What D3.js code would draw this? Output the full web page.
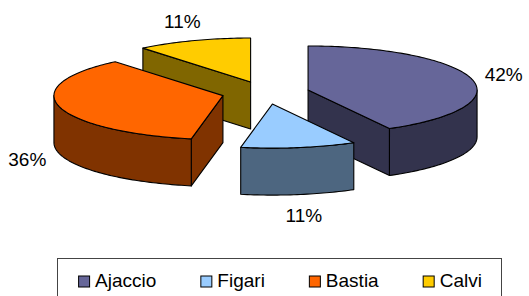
<!DOCTYPE html>
<html>
<head>
<meta charset="utf-8">
<script src="https://cdn.jsdelivr.net/npm/d3@7"></script>
<style>
    body { margin: 0; background: #fff; }
    text { font-family: "Liberation Sans", Arial, sans-serif; fill: #000; }
</style>
</head>
<body>
<script>
// Chart data
var cities = ["Ajaccio", "Figari", "Bastia", "Calvi"];
var shares = [42, 11, 36, 11];
var topColors = ["#666699", "#99CCFF", "#FF6600", "#FFCC00"];
var sideColors = ["#33334D", "#4D6680", "#803300", "#806600"];

window.onload = function(){

    // SVG dimension variables
    var w = 529, h = 296;

    // Pie geometry (3D ellipse)
    var cx = 265.5, cy = 92.8, rx = 169, ry = 44, depth = 47, explode = 0.26;
    var fontSize = 19;

    var svg = d3.select("body")
        .append("svg")
        .attr("width", w)
        .attr("height", h);

    // Unit-circle coords -> screen coords
    var x = d3.scaleLinear().domain([-1, 1]).range([cx - rx, cx + rx]);
    var y = d3.scaleLinear().domain([-1, 1]).range([cy - ry, cy + ry]);

    var pie = d3.pie().sort(null).value(function(d){ return d; });
    var arcs = pie(shares);

    arcs.forEach(function(d, i){
        d.mid = (d.startAngle + d.endAngle) / 2;
        d.ox = explode * Math.sin(d.mid);
        d.oy = -explode * Math.cos(d.mid);
        d.i = i;
    });

    // Point of a slice at angle a, radius r, depth dz
    function pt(d, a, r, dz){
        return [x(r * Math.sin(a) + d.ox), y(-r * Math.cos(a) + d.oy) + dz];
    }

    function arcPts(d, a0, a1, dz){
        var n = Math.max(2, Math.ceil(Math.abs(a1 - a0) / 0.02));
        return d3.range(n + 1).map(function(k){
            return pt(d, a0 + (a1 - a0) * k / n, 1, dz);
        });
    }

    var line = d3.line().curve(d3.curveLinearClosed);

    // Paint from back to front
    var order = arcs.slice().sort(function(a, b){
        return -Math.cos(a.mid) - -Math.cos(b.mid);
    });

    var slices = svg.append("g").attr("class", "slices");

    order.forEach(function(d){
        var g = slices.append("g").attr("class", "slice");
        var side = sideColors[d.i], top = topColors[d.i];

        // Radial cut faces that face the viewer
        [[d.startAngle, Math.sin(d.startAngle) < -1e-6], [d.endAngle, Math.sin(d.endAngle) > 1e-6]]
            .forEach(function(f){
                if (!f[1]) return;
                g.append("path")
                    .attr("d", line([pt(d, 0, 0, 0), pt(d, f[0], 1, 0), pt(d, f[0], 1, depth), pt(d, 0, 0, depth)]))
                    .style("fill", side);
            });

        // Outer wall, front half only
        var a0 = Math.max(d.startAngle, Math.PI / 2);
        var a1 = Math.min(d.endAngle, 3 * Math.PI / 2);
        if (a1 > a0) {
            var pts = arcPts(d, a0, a1, 0).concat(arcPts(d, a1, a0, depth));
            g.append("path")
                .attr("d", line(pts))
                .style("fill", side);
        }

        // Top face
        g.append("path")
            .attr("d", line([pt(d, 0, 0, 0)].concat(arcPts(d, d.startAngle, d.endAngle, 0))))
            .style("fill", top);
    });

    slices.selectAll("path")
        .style("stroke", "#000")
        .style("stroke-width", 1.1)
        .style("stroke-linejoin", "round");

    // Percent labels outside each slice
    var fmt = function(v){ return Math.round(v) + "%"; };
    var total = d3.sum(shares);
    var capH = fontSize * 0.716;

    arcs.forEach(function(d){
        var front = -Math.cos(d.mid) > 0;
        var a = pt(d, d.mid, 1, front ? depth : 0);
        var t = svg.append("text")
            .attr("class", "label")
            .attr("text-anchor", "middle")
            .style("font-size", fontSize + "px")
            .text(fmt(d.data / total * 100));
        var hw = t.node().getComputedTextLength() / 2;
        var lx = a[0] + Math.sin(d.mid) * (hw + 14);
        var ly = a[1] - Math.cos(d.mid) * (capH / 2 + 14);
        t.attr("x", lx).attr("y", ly + capH / 2);
    });

    // Legend
    var legend = svg.append("g").attr("class", "legend");
    legend.append("rect")
        .attr("x", 57.5)
        .attr("y", 258.5)
        .attr("width", 444)
        .attr("height", 60)
        .style("fill", "#fff")
        .style("stroke", "#444");

    var items = legend.selectAll(".item")
        .data(cities)
        .enter()
        .append("g")
        .attr("class", "item");

    items.append("rect")
        .attr("width", 11)
        .attr("height", 11)
        .attr("y", 276)
        .style("fill", function(d, i){ return topColors[i]; })
        .style("stroke", "#000");

    items.append("text")
        .attr("y", 287)
        .style("font-size", fontSize + "px")
        .text(function(d){ return d; });

    var gap = 44, sq = 17, widths = [];
    items.selectAll("text").each(function(){ widths.push(this.getComputedTextLength()); });
    var totalW = d3.sum(widths) + sq * cities.length + gap * (cities.length - 1);
    var start = 280 - totalW / 2;
    items.each(function(d, i){
        var item = d3.select(this);
        item.select("rect").attr("x", start + 0.5);
        item.select("text").attr("x", start + sq);
        start += sq + widths[i] + gap;
    });
};
</script>
</body>
</html>
